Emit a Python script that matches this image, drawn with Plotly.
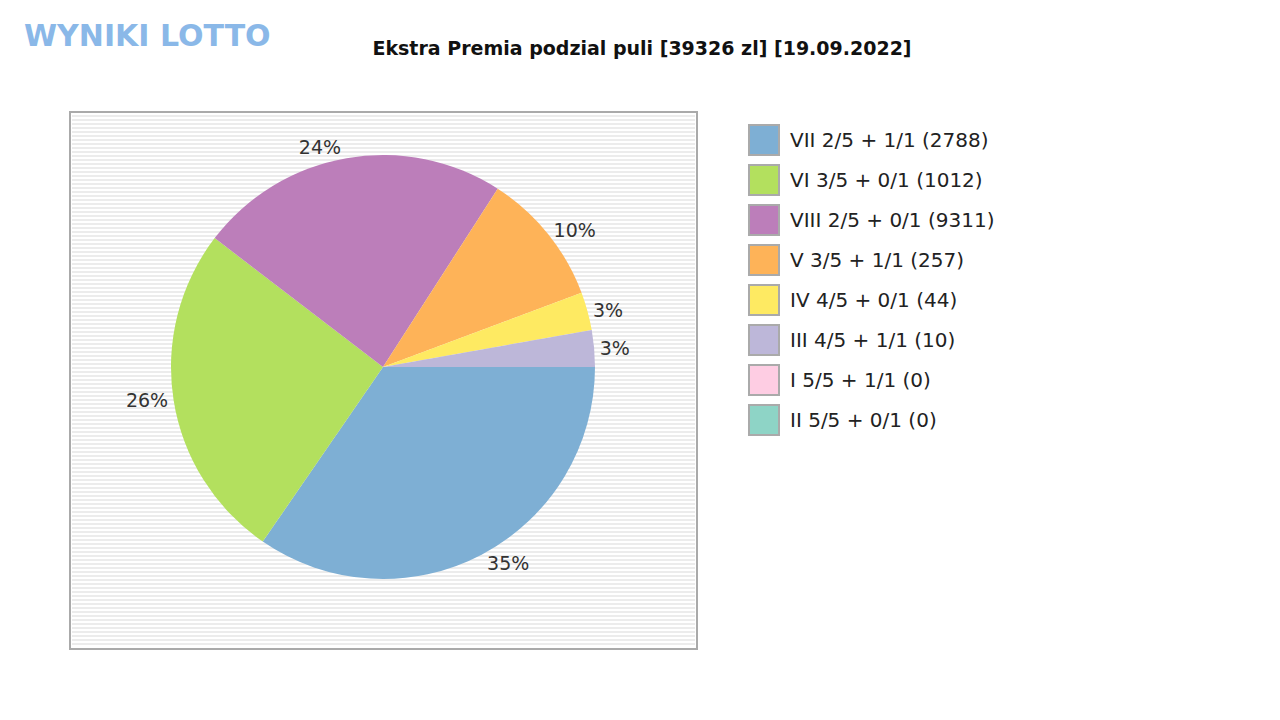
import plotly.graph_objects as go

labels = ["VII 2/5 + 1/1 (2788)", "VI 3/5 + 0/1 (1012)", "VIII 2/5 + 0/1 (9311)",
          "V 3/5 + 1/1 (257)", "IV 4/5 + 0/1 (44)", "III 4/5 + 1/1 (10)",
          "I 5/5 + 1/1 (0)", "II 5/5 + 0/1 (0)"]
values = [34.6, 25.8, 23.7, 10.2, 2.9, 2.8, 0, 0]
colors = ["#7eafd4", "#b3e05e", "#bc7eba", "#feb358", "#feea62", "#bdb7d9", "#fecde3", "#8ed4c6"]

W, H = 1280, 720
OX, OY = 8, 8  # page offset
cx, cy, r = 383 - OX, 367 - OY, 212

def px(x):
    return (x - OX) / W

def py(y):
    return 1 - (y - OY) / H

fig = go.Figure(go.Pie(
    labels=labels, values=values, sort=False, direction="clockwise", rotation=90,
    marker=dict(colors=colors, line=dict(width=0)),
    texttemplate=["%{percent:.0%}" if v > 0 else "" for v in values],
    textposition="outside",
    textfont=dict(size=19, color="#333", family="DejaVu Sans"),
    domain=dict(x=[(cx - r) / W, (cx + r) / W], y=[(H - cy - r) / H, (H - cy + r) / H]),
    showlegend=False, hoverinfo="label+percent",
))

shapes = [dict(type="rect", xref="paper", yref="paper", x0=px(70), x1=px(697),
               y0=py(649), y1=py(112), fillcolor="#ffffff",
               line=dict(color="#aaaaaa", width=2), layer="below")]
for y in range(116, 647, 4):
    shapes.append(dict(type="line", xref="paper", yref="paper", x0=px(72), x1=px(695),
                       y0=py(y), y1=py(y), line=dict(color="#e6e6e6", width=1.5),
                       layer="below"))

annotations = [dict(text="<b>WYNIKI LOTTO</b>", xref="paper", yref="paper",
                    x=px(22), y=py(36), xanchor="left", yanchor="middle",
                    showarrow=False, font=dict(size=30, color="#8ab8e8", family="DejaVu Sans"))]
for i, (lab, col) in enumerate(zip(labels, colors)):
    yc = 140 + 40 * i
    shapes.append(dict(type="rect", xref="paper", yref="paper",
                       x0=px(749), x1=px(779), y0=py(yc + 15), y1=py(yc - 15),
                       fillcolor=col, line=dict(color="#aaaaaa", width=2)))
    annotations.append(dict(text=lab, xref="paper", yref="paper", x=px(788), y=py(yc),
                            xanchor="left", yanchor="middle", showarrow=False,
                            font=dict(size=20, color="#222", family="DejaVu Sans")))

fig.update_layout(
    width=W, height=H, margin=dict(l=0, r=0, t=0, b=0),
    paper_bgcolor="white", plot_bgcolor="white",
    font=dict(family="DejaVu Sans"),
    title=dict(text="<b>Ekstra Premia podzial puli [39326 zl] [19.09.2022]</b>",
               x=px(642), xanchor="center", y=py(48), yanchor="middle",
               font=dict(size=19, color="#111")),
    shapes=shapes, annotations=annotations,
)
fig.write_html("out.html")
